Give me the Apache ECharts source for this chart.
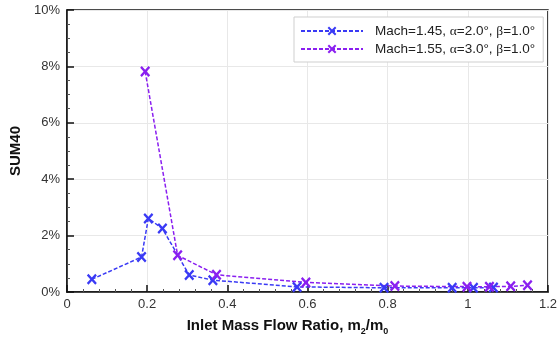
<!DOCTYPE html>
<html>
<head>
<meta charset="utf-8">
<script src="https://cdn.jsdelivr.net/npm/echarts@6/dist/echarts.min.js"></script>
<style>
  html, body { margin: 0; padding: 0; background: #fff; }
  #chart { width: 560px; height: 341px; }
</style>
</head>
<body>
<div id="chart"></div>
<script>
// Inlet mass flow ratio (m2/m0) and SUM40 distortion (%) for two flight conditions
const seriesNames = [
  'Mach=1.45, {g|α}=2.0°, {g|β}=1.0°',
  'Mach=1.55, {g|α}=3.0°, {g|β}=1.0°'
];
const legendKeys = ['m145', 'm155'];

const flowRatio145 = [0.062, 0.186, 0.203, 0.238, 0.305, 0.364, 0.574, 0.791, 0.961, 1.014, 1.064];
const sum40_145    = [0.45, 1.24, 2.61, 2.25, 0.60, 0.42, 0.18, 0.15, 0.15, 0.15, 0.16];

const flowRatio155 = [0.195, 0.276, 0.373, 0.596, 0.818, 0.998, 1.054, 1.107, 1.149];
const sum40_155    = [7.82, 1.30, 0.61, 0.34, 0.21, 0.19, 0.19, 0.20, 0.24];

const xTicks = [0, 0.2, 0.4, 0.6, 0.8, 1, 1.2];
const yTicks = [0, 2, 4, 6, 8, 10];

const colors = ['#3a3af5', '#8a1ff0'];
const xMark = 'path://M0,1.6 L1.6,0 L5,3.4 L8.4,0 L10,1.6 L6.6,5 L10,8.4 L8.4,10 L5,6.6 L1.6,10 L0,8.4 L3.4,5 Z';

const pairs = (xs, ys) => xs.map((x, i) => [x, ys[i]]);

const chart = echarts.init(document.getElementById('chart'), null, { renderer: 'canvas' });

const fontFamily = '"Liberation Sans", Arial, sans-serif';

function makeSeries(idx, xs, ys) {
  return {
    name: legendKeys[idx],
    type: 'line',
    data: pairs(xs, ys),
    symbol: xMark,
    symbolSize: [10, 11],
    showSymbol: true,
    lineStyle: { color: colors[idx], width: 1.5, type: [4, 2] },
    itemStyle: { color: colors[idx] },
    emphasis: { disabled: true },
    animation: false,
    z: 3
  };
}

chart.setOption({
  animation: false,
  backgroundColor: '#fff',
  grid: {
    left: 65, right: 11, top: 10, bottom: 44,
    show: true, borderColor: '#111', borderWidth: 1.5, backgroundColor: 'transparent'
  },
  legend: {
    orient: 'vertical',
    left: 294, top: 17,
    padding: [7, 8, 6, 6],
    itemGap: 4,
    itemWidth: 62, itemHeight: 11,
    backgroundColor: '#fff',
    borderColor: '#cfcfcf', borderWidth: 1,
    data: legendKeys,
    formatter: name => seriesNames[legendKeys.indexOf(name)],
    textStyle: {
      fontFamily, fontSize: 13.5, color: '#222', padding: [0, 0, 0, 7],
      rich: { g: { fontFamily: '"Liberation Serif", "DejaVu Serif", serif', fontSize: 13.5, color: '#222' } }
    }
  },
  xAxis: {
    type: 'value',
    min: xTicks[0], max: xTicks[xTicks.length - 1], interval: 0.2,
    name: '{b|Inlet Mass Flow Ratio, m}{s|2}{b|/m}{s|0}',
    nameLocation: 'middle', nameGap: 23,
    nameTextStyle: {
      padding: [0, 40, 0, 0],
      rich: {
        b: { fontFamily, fontWeight: 'bold', fontSize: 15, color: '#111', verticalAlign: 'bottom', lineHeight: 18 },
        s: { fontFamily, fontWeight: 'bold', fontSize: 9, color: '#111', verticalAlign: 'bottom', lineHeight: 12, padding: [0, 0, -3, 0] }
      }
    },
    axisLine: { lineStyle: { color: '#111', width: 1.5 } },
    axisTick: { inside: true, length: 7, lineStyle: { color: '#111', width: 1.5 } },
    minorTick: { show: true, splitNumber: 5, length: 3, lineStyle: { color: '#555', width: 1 } },
    axisLabel: {
      fontFamily, fontSize: 13, color: '#333', margin: 6,
      formatter: v => (xTicks.indexOf(Math.round(v * 10) / 10) >= 0 ? String(Math.round(v * 10) / 10) : '')
    },
    splitLine: { show: true, lineStyle: { color: '#e8e8e8', width: 1 } }
  },
  yAxis: {
    type: 'value',
    min: yTicks[0], max: yTicks[yTicks.length - 1], interval: 2,
    name: 'SUM40',
    nameLocation: 'middle', nameGap: 44,
    nameTextStyle: { fontFamily, fontWeight: 'bold', fontSize: 15, color: '#111' },
    axisLine: { lineStyle: { color: '#111', width: 1.5 } },
    axisTick: { inside: true, length: 7, lineStyle: { color: '#111', width: 1.5 } },
    minorTick: { show: true, splitNumber: 4, length: 3, lineStyle: { color: '#555', width: 1 } },
    axisLabel: { fontFamily, fontSize: 13, color: '#333', margin: 7, formatter: '{value}%' },
    splitLine: { show: true, lineStyle: { color: '#e8e8e8', width: 1 } }
  },
  series: [
    makeSeries(0, flowRatio145, sum40_145),
    makeSeries(1, flowRatio155, sum40_155)
  ]
});
</script>
</body>
</html>
